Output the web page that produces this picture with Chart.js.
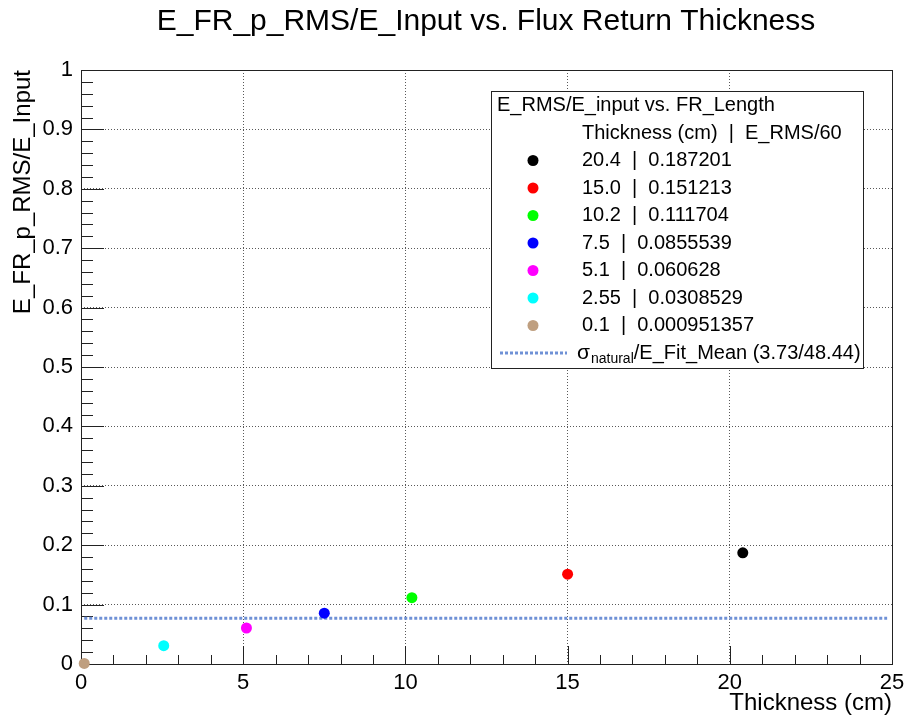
<!DOCTYPE html>
<html>
<head>
<meta charset="utf-8">
<script src="https://cdn.jsdelivr.net/npm/chart.js@4/dist/chart.umd.min.js"></script>
<style>
  body { margin: 0; background: #fff; }
  #wrap { width: 908px; height: 723px; }
</style>
</head>
<body>
<div id="wrap"><canvas id="c" width="908" height="723"></canvas></div>
<script>
// thickness (cm) of the flux return and E_RMS/60 for each run
const thickness = [20.4, 15.0, 10.2, 7.5, 5.1, 2.55, 0.1];
const thicknessText = ['20.4', '15.0', '10.2', '7.5', '5.1', '2.55', '0.1'];
const eRms = [0.187201, 0.151213, 0.111704, 0.0855539, 0.060628, 0.0308529, 0.000951357];
const eRmsText = ['0.187201', '0.151213', '0.111704', '0.0855539', '0.060628', '0.0308529', '0.000951357'];
const pointColors = ['#000000', '#ff0000', '#00ff00', '#0000ff', '#ff00ff', '#00ffff', '#bf9f80'];

// sigma_natural / E_Fit_Mean reference line
const sigmaNatural = 3.73;
const eFitMean = 48.44;
const refLineX = [0.1, 24.85];
const refColor = '#6f91d6';

const chartTitle = 'E_FR_p_RMS/E_Input vs. Flux Return Thickness';
const FONT = "'Liberation Sans', Arial, Helvetica, sans-serif";

const datasets = thickness.map((t, i) => ({
  type: 'scatter',
  label: thicknessText[i] + '  |  ' + eRmsText[i],
  data: [{x: t, y: eRms[i]}],
  backgroundColor: pointColors[i],
  borderWidth: 0,
  pointRadius: 5.5,
  clip: false,
}));
const ratio = sigmaNatural / eFitMean;
datasets.push({
  type: 'line',
  label: 'ref',
  data: refLineX.map(x => ({x: x, y: ratio})),
  borderColor: refColor,
  borderWidth: 3,
  borderDash: [3, 2],
  pointRadius: 0,
  clip: false,
});

// title, ROOT puts it a bit right of centre
const padTitle = {
  id: 'padTitle',
  afterDraw(chart) {
    const ctx = chart.ctx;
    ctx.save();
    ctx.fillStyle = '#000';
    ctx.font = '30px ' + FONT;
    ctx.textAlign = 'center';
    ctx.textBaseline = 'alphabetic';
    ctx.fillText(chartTitle, 486, 30);
    ctx.restore();
  }
};

// ROOT style frame + inner ticks
const frameTicks = {
  id: 'frameTicks',
  beforeDatasetsDraw(chart) {
    const {ctx, chartArea: a, scales: {x, y}} = chart;
    ctx.save();
    ctx.strokeStyle = '#222';
    ctx.lineWidth = 1;
    ctx.strokeRect(a.left + 0.5, a.top + 0.5, a.right - a.left, a.bottom - a.top);
    ctx.beginPath();
    for (let i = 0; i <= 25; i++) {
      const px = Math.round(x.getPixelForValue(i)) + 0.5;
      const len = i % 5 === 0 ? 18 : 9;
      ctx.moveTo(px, a.bottom);
      ctx.lineTo(px, a.bottom - len);
    }
    for (let i = 0; i <= 50; i++) {
      const py = Math.round(y.getPixelForValue(i * 0.02)) + 0.5;
      const len = i % 5 === 0 ? 23 : 12;
      ctx.moveTo(a.left, py);
      ctx.lineTo(a.left + len, py);
    }
    ctx.stroke();
    ctx.restore();
  }
};

// legend box
const rootLegend = {
  id: 'rootLegend',
  afterDatasetsDraw(chart) {
    const ctx = chart.ctx;
    const bx = 491, by = 91, bw = 372, bh = 277;
    ctx.save();
    ctx.fillStyle = '#fff';
    ctx.fillRect(bx, by, bw, bh);
    ctx.strokeStyle = '#222';
    ctx.lineWidth = 1;
    ctx.strokeRect(bx + 0.5, by + 0.5, bw, bh);

    ctx.fillStyle = '#000';
    ctx.textBaseline = 'middle';
    ctx.font = '20px ' + FONT;
    ctx.fillText('E_RMS/E_input vs. FR_Length', 497, 105);
    const tx = 582, mx = 533;
    ctx.fillText('Thickness (cm)  |  E_RMS/60', tx, 133);
    const rowH = 27.5;
    let ry = 160.5;
    datasets.forEach((ds, i) => {
      if (ds.type !== 'scatter') return;
      ctx.fillStyle = ds.backgroundColor;
      ctx.beginPath();
      ctx.arc(mx, ry, 5.5, 0, Math.PI * 2);
      ctx.fill();
      ctx.fillStyle = '#000';
      ctx.fillText(ds.label, tx, ry);
      ry += rowH;
    });
    // reference line entry
    ctx.strokeStyle = refColor;
    ctx.lineWidth = 3;
    ctx.setLineDash([3, 2]);
    ctx.beginPath();
    ctx.moveTo(500, ry);
    ctx.lineTo(567, ry);
    ctx.stroke();
    ctx.setLineDash([]);
    ctx.fillStyle = '#000';
    let cx = 577;
    ctx.font = '21px ' + FONT;
    ctx.fillText('σ', cx, ry);
    cx += ctx.measureText('σ').width + 1;
    ctx.font = '14px ' + FONT;
    ctx.fillText('natural', cx, ry + 6);
    cx += ctx.measureText('natural').width;
    ctx.font = '20px ' + FONT;
    ctx.fillText('/E_Fit_Mean (' + sigmaNatural.toFixed(2) + '/' + eFitMean.toFixed(2) + ')', cx, ry);
    ctx.restore();
  }
};

new Chart(document.getElementById('c').getContext('2d'), {
  data: { datasets: datasets },
  options: {
    responsive: false,
    animation: false,
    layout: { padding: { top: 70, right: 16 } },
    plugins: {
      legend: { display: false },
      tooltip: { enabled: false },
      title: { display: false }
    },
    scales: {
      x: {
        type: 'linear',
        min: 0, max: 25,
        ticks: { stepSize: 5, color: '#000', padding: 6, font: { family: FONT, size: 22 } },
        grid: { color: 'rgba(0,0,0,0.65)', drawTicks: false },
        border: { display: false, dash: [1, 2] },
        title: {
          display: true, text: 'Thickness (cm)', align: 'end', color: '#000',
          font: { family: FONT, size: 24 }, padding: { top: 0, bottom: 5 }
        },
        afterFit(scale) {
          scale.height = 59;
          scale.paddingLeft = 0;
          scale.paddingRight = 0;
        }
      },
      y: {
        type: 'linear',
        min: 0, max: 1,
        ticks: {
          stepSize: 0.1, color: '#000', padding: 8, font: { family: FONT, size: 22 },
          callback: v => String(Math.round(v * 10) / 10)
        },
        grid: { color: 'rgba(0,0,0,0.65)', drawTicks: false },
        border: { display: false, dash: [1, 2] },
        title: {
          display: true, text: 'E_FR_p_RMS/E_Input', align: 'end', color: '#000',
          font: { family: FONT, size: 24 }, padding: { top: 9, bottom: 0 }
        },
        afterFit(scale) { scale.width = 81; }
      }
    }
  },
  plugins: [frameTicks, rootLegend, padTitle]
});
</script>
</body>
</html>
